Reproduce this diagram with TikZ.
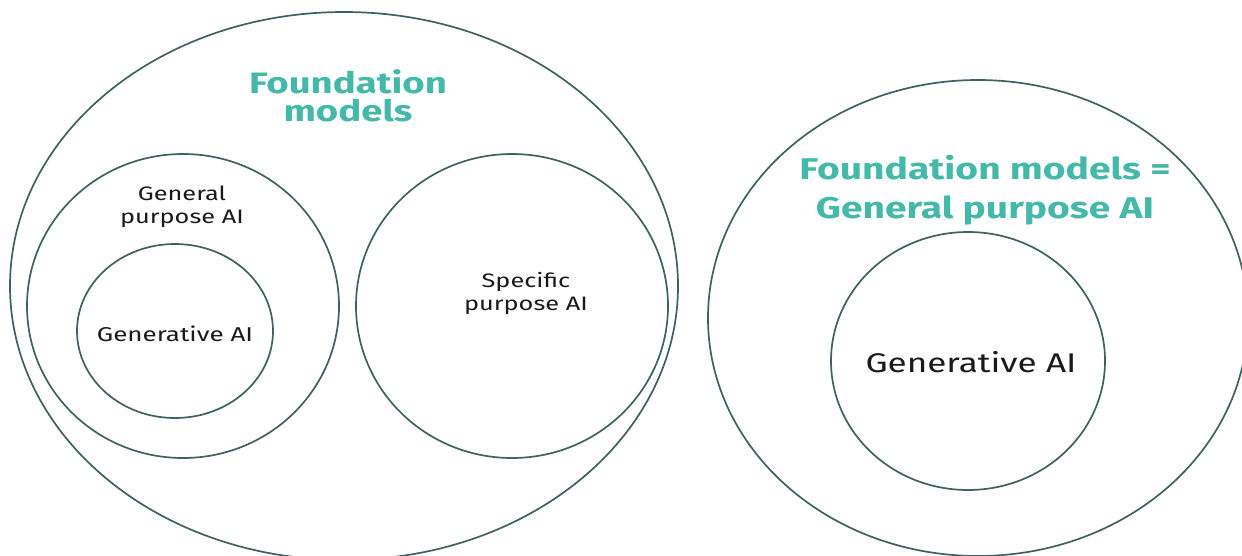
\documentclass[tikz,border=0pt]{standalone}
\usepackage{fontspec}
\setmainfont{Fira Sans}[FakeStretch=1.3]
\usetikzlibrary{shapes.geometric}
\definecolor{lineC}{HTML}{3E6262}
\definecolor{teal}{HTML}{45B9A9}
\definecolor{ink}{HTML}{1A1A1A}
\tikzset{
  oval/.style={ellipse, draw=lineC, line width=1.7pt, inner sep=0pt},
  title/.style={text=teal, font=\fontsize{29.5}{28}\selectfont\bfseries, align=center, inner sep=0pt},
  lbl/.style={text=ink, font=\fontsize{19.5}{23}\selectfont, align=center, inner sep=0pt}
}
\begin{document}
\begin{tikzpicture}[x=1pt,y=-1pt]
\useasboundingbox (0,0) rectangle (1242,555);
\clip (0,0) rectangle (1242,555);
\fill[white] (0,0) rectangle (1242,555);
% left group
\node[oval, minimum width=668pt, minimum height=548pt] (fm) at (344,286) {};
\node[oval, minimum width=312pt, minimum height=304pt] (gp) at (183,306) {};
\node[oval, minimum width=196pt, minimum height=174pt] (gen) at (175,331) {};
\node[oval, minimum width=312pt, minimum height=304pt] (sp) at (512,306) {};
\node[title] (fmt) at (348,96) {Foundation\\models};
\node[lbl] (gpt) at (182,207) {General\\purpose AI};
\node[lbl, font=\fontsize{20}{22}\selectfont] (gent) at (175,334) {Generative AI};
\node[lbl] (spt) at (526,293) {Specific\\purpose AI};
% right group
\node[oval, minimum width=540pt, minimum height=476pt] (fm2) at (978,318) {};
\node[oval, minimum width=274pt, minimum height=258pt] (gen2) at (968,361) {};
\node[title, font=\fontsize{30}{39}\selectfont\bfseries] (fmt2) at (985,190) {Foundation models =\\General purpose AI};
\node[lbl, font=\fontsize{27}{30}\selectfont] (gent2) at (971,362) {Generative AI};
\end{tikzpicture}
\end{document}
